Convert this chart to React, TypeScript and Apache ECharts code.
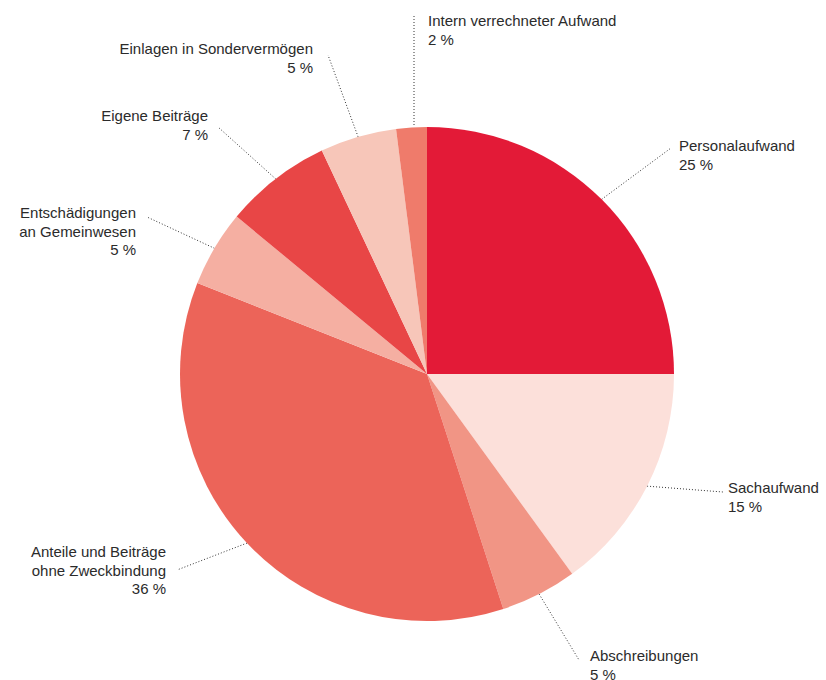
import React, { useEffect, useRef } from "react";
import * as echarts from "echarts";

const categories = [
  "Personalaufwand",
  "Sachaufwand",
  "Abschreibungen",
  "Anteile und Beiträge\nohne Zweckbindung",
  "Entschädigungen\nan Gemeinwesen",
  "Eigene Beiträge",
  "Einlagen in Sondervermögen",
  "Intern verrechneter Aufwand",
];
const values = [25, 15, 5, 36, 5, 7, 5, 2];
const colors = ["#E31A37", "#FCE0DA", "#F19585", "#EC6459", "#F5AFA2", "#E84646", "#F7C6B9", "#EF7B6B"];

// label layout: text anchor (x, y, align) and leader-line end point
const labelX = [679, 728, 590, 166, 136, 208, 313, 428];
const labelY = [155, 497, 665, 570, 231, 125, 58, 30];
const labelAlign = ["left", "left", "left", "right", "right", "right", "right", "left"];
const lineEndX = [671, 723, 579, 177, 147, 218, 328, 414];
const lineEndY = [148, 492, 660, 570, 217, 127, 55, 14];

export default function App() {
  const ref = useRef<HTMLDivElement>(null);
  useEffect(() => {
    document.body.style.margin = "0";
    const chart = echarts.init(ref.current!, null, { renderer: "svg" });
    chart.setOption({
      animation: false,
      backgroundColor: "#ffffff",
      series: [
        {
          type: "pie",
          center: [427, 374],
          radius: 247,
          startAngle: 90,
          clockwise: true,
          avoidLabelOverlap: false,
          silent: true,
          data: categories.map((name, i) => ({
            name,
            value: values[i],
            itemStyle: { color: colors[i] },
            label: { align: labelAlign[i] },
          })),
          label: {
            show: true,
            position: "outside",
            formatter: "{b}\n{c} %",
            fontFamily: "Liberation Sans, Arial, sans-serif",
            fontSize: 15,
            lineHeight: 18.5,
            color: "#2b2b2b",
          },
          labelLine: {
            show: true,
            length: 20,
            length2: 10,
            smooth: false,
            lineStyle: { color: "#333", width: 1, type: [1, 2] },
          },
          labelLayout: (params: any) => {
            const i = params.dataIndex;
            const p0 = params.labelLinePoints ? params.labelLinePoints[0] : [lineEndX[i], lineEndY[i]];
            let start = p0;
            if (i === 7) start = [lineEndX[i], 125];
            return {
              x: labelX[i],
              y: labelY[i],
              align: labelAlign[i],
              verticalAlign: "middle",
              labelLinePoints: [start, [lineEndX[i], lineEndY[i]], [lineEndX[i], lineEndY[i]]],
            };
          },
        },
      ],
    });
    return () => chart.dispose();
  }, []);
  return <div ref={ref} style={{ width: 826, height: 680 }} />;
}
